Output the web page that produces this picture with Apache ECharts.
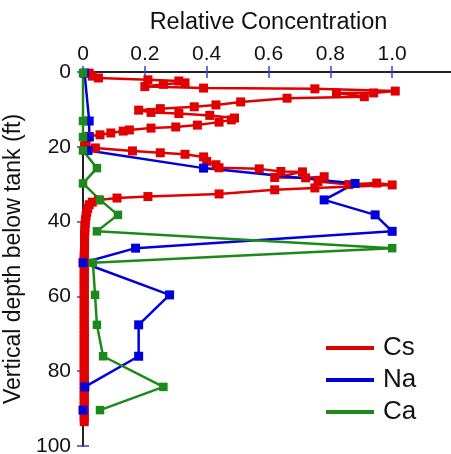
<!DOCTYPE html>
<html>
<head>
<meta charset="utf-8">
<script src="https://cdn.jsdelivr.net/npm/echarts@6/dist/echarts.min.js"></script>
<style>html,body{margin:0;padding:0;background:#fff;}#c{width:451px;height:454px;}</style>
</head>
<body>
<div id="c"></div>
<script>
// Cs: relative concentration and depth (ft), in sample/plot order
const csConc = [0.02,0.03,0.05,0.21,0.31,0.33,0.26,0.20,0.39,0.75,1.01,0.94,0.82,0.91,0.66,0.51,0.43,0.36,0.25,0.18,0.22,0.31,0.41,0.49,0.48,0.44,0.37,0.30,0.22,0.15,0.13,0.09,0.055,0.02,0.01,0.005,0.04,0.16,0.25,0.33,0.39,0.40,0.43,0.44,0.57,0.64,0.71,0.62,0.72,0.78,0.76,0.86,0.95,1.0,0.75,0.62,0.44,0.21,0.11,0.05,0.03,0.02,0.015,0.012,0.010,0.008,0.007,0.006,0.006,0.005,0.005,0.005,0.005,0.005,0.004,0.004,0.004,0.004,0.004,0.004,0.004,0.004,0.004,0.004,0.004,0.004,0.004,0.004,0.004,0.004,0.004,0.004,0.004,0.004,0.004,0.004,0.004,0.004,0.004,0.004,0.004,0.004,0.004,0.004,0.004,0.004,0.004,0.004,0.004,0.004,0.004,0.004,0.004,0.004,0.004,0.004,0.004,0.004,0.004,0.004];
const csDepth = [0.3,1.1,1.6,2.1,2.4,2.9,3.3,3.9,4.3,4.5,5.1,5.6,5.6,6.6,7.0,8.0,8.8,9.3,9.8,10.2,10.8,11.1,11.6,12.3,12.8,13.4,14.2,14.7,15.0,15.5,15.8,16.3,16.8,17.2,18.6,19.8,20.3,21.1,21.6,22.0,22.7,23.9,24.8,25.6,25.9,26.6,26.7,28.2,28.3,28.0,29.3,30.1,29.7,30.2,31.0,31.5,32.6,33.3,33.7,34.2,34.8,35.5,36.5,37.5,38.5,39.5,40.5,41.5,42.5,43.5,44.5,45.5,46.5,47.5,48.5,49.5,50.5,51.5,52.5,53.5,54.5,55.5,56.5,57.5,58.5,59.5,60.5,61.5,62.5,63.5,64.5,65.5,66.5,67.5,68.5,69.5,70.5,71.5,72.5,73.5,74.5,75.5,76.5,77.5,78.5,79.5,80.5,81.5,82.5,83.5,84.5,85.5,86.5,87.5,88.5,89.5,90.5,91.5,92.5,93.5];
// Na and Ca share sample depths
const sampleDepth = [0.3,13.1,17.4,21.0,25.7,29.8,34.2,38.2,42.6,47.1,51.0,59.6,67.6,76.0,84.2,90.4];
const naConc = [0.005,0.02,0.02,0.016,0.39,0.88,0.78,0.945,1.0,0.17,0.0,0.28,0.18,0.18,0.006,0.0];
const caConc = [0.0,0.0,0.0,0.0,0.045,0.0,0.055,0.113,0.045,1.0,0.032,0.039,0.045,0.065,0.26,0.055];
const xTicks = [0,0.2,0.4,0.6,0.8,1.0];
const yTicks = [0,20,40,60,80,100];

const csAll = csConc.map((v,i)=>[v, csDepth[i]]);
const naAll = naConc.map((v,i)=>[v, sampleDepth[i]]);
const caAll = caConc.map((v,i)=>[v, sampleDepth[i]]);

const RED = '#e00000', BLUE = '#0000dc', GREEN = '#1b8a1b', TICK = '#3344cc';
const FONT = 'Liberation Sans, Arial, sans-serif';

const chart = echarts.init(document.getElementById('c'), null, {renderer:'canvas'});
chart.setOption({
  animation:false,
  grid:{left:83, top:72, right:-3, bottom:8, containLabel:false, outerBoundsMode:'none'},
  xAxis:[
    {type:'value', position:'top', min:0, max:1.2, interval:0.2,
     name:'Relative Concentration', nameLocation:'middle', nameGap:37,
     nameTextStyle:{fontSize:23.5, color:'#111', fontFamily:FONT},
     axisLine:{show:true, lineStyle:{color:'#666', width:2}},
     axisTick:{show:true, inside:true, length:6, lineStyle:{color:TICK, width:1.5}},
     axisLabel:{fontSize:21, color:'#111', fontFamily:FONT, margin:7, showMaxLabel:false,
       formatter:v=> v===0 ? '0' : (xTicks.indexOf(+v.toFixed(1))>=0 ? v.toFixed(1) : '')},
     splitLine:{show:false}},
    {type:'value', position:'bottom', min:0, max:1.2, interval:0.2,
     axisLine:{show:true, lineStyle:{color:'#222', width:2}},
     axisTick:{show:true, inside:true, length:6, lineStyle:{color:TICK, width:1.5}},
     axisLabel:{show:false}, splitLine:{show:false}}
  ],
  yAxis:[
    {type:'value', inverse:true, min:0, max:100, interval:20, position:'left',
     name:'Vertical depth below tank (ft)', nameLocation:'middle', nameGap:49, nameRotate:90,
     nameTextStyle:{fontSize:23, color:'#111', fontFamily:FONT},
     axisLine:{show:true, lineStyle:{color:'#222', width:2}},
     axisTick:{show:true, inside:true, length:6, lineStyle:{color:TICK, width:1.5}},
     axisLabel:{fontSize:21, color:'#111', fontFamily:FONT, margin:12,
       formatter:v=> yTicks.indexOf(v)>=0 ? String(v) : ''},
     splitLine:{show:false}},
    {type:'value', inverse:true, min:0, max:100, interval:20, position:'right',
     axisLine:{show:true, lineStyle:{color:'#222', width:2}},
     axisTick:{show:true, inside:true, length:6, lineStyle:{color:TICK, width:1.5}},
     axisLabel:{show:false}, splitLine:{show:false}}
  ],
  legend:{orient:'vertical', left:321, top:330, itemWidth:48, itemHeight:4, itemGap:6, icon:'rect',
    textStyle:{fontSize:26, color:'#111', fontFamily:FONT, padding:[0,0,0,4]},
    data:['Cs','Na','Ca']},
  series:[
    {name:'Cs', type:'line', data:csAll, color:RED, itemStyle:{color:RED}, lineStyle:{width:2.5,color:RED}, symbol:'rect', symbolSize:9, showAllSymbol:true},
    {name:'Na', type:'line', data:naAll, color:BLUE, itemStyle:{color:BLUE}, lineStyle:{width:2.5,color:BLUE}, symbol:'rect', symbolSize:9, showAllSymbol:true},
    {name:'Ca', type:'line', data:caAll, color:GREEN, itemStyle:{color:GREEN}, lineStyle:{width:2.5,color:GREEN}, symbol:'rect', symbolSize:8.5, showAllSymbol:true}
  ]
});
</script>
</body>
</html>
